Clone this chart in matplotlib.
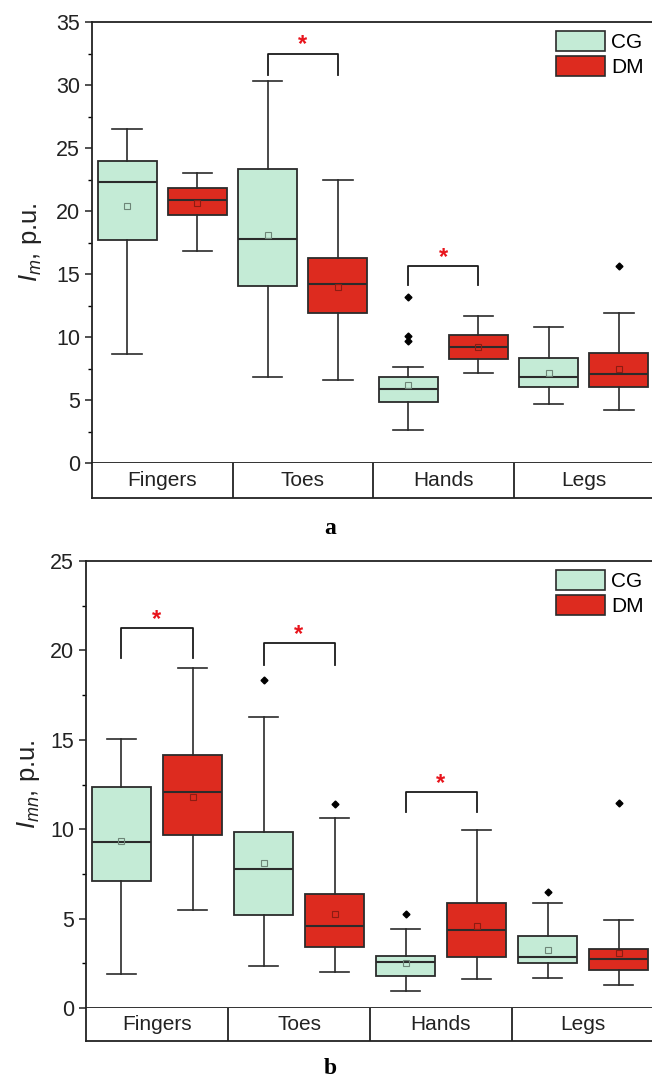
import matplotlib
matplotlib.use('Agg')
import matplotlib.pyplot as plt
from matplotlib.patches import Patch

plt.rcParams['font.family'] = ['Liberation Sans', 'DejaVu Sans']
plt.rcParams['mathtext.fontset'] = 'custom'
plt.rcParams['mathtext.rm'] = 'Liberation Sans'
plt.rcParams['mathtext.it'] = 'Liberation Sans:italic'

# Data
categories = ['Fingers', 'Toes', 'Hands', 'Legs']
groups = ['CG', 'DM']

# panel a : I_m
a_cg_low = [8.65, 6.8, 2.6, 4.7]
a_cg_q1 = [17.7, 14.05, 4.85, 6.05]
a_cg_med = [22.3, 17.8, 5.9, 6.8]
a_cg_q3 = [24.0, 23.3, 6.8, 8.3]
a_cg_high = [26.5, 30.3, 7.6, 10.8]
a_cg_mean = [20.4, 18.1, 6.2, 7.15]
a_cg_out = [[], [], [13.2, 10.1, 9.7], []]

a_dm_low = [16.8, 6.6, 7.15, 4.2]
a_dm_q1 = [19.7, 11.9, 8.25, 6.05]
a_dm_med = [20.9, 14.2, 9.2, 7.05]
a_dm_q3 = [21.8, 16.3, 10.15, 8.7]
a_dm_high = [23.0, 22.5, 11.7, 11.9]
a_dm_mean = [20.6, 14.0, 9.2, 7.5]
a_dm_out = [[], [], [], [15.6]]

# significance brackets: category index, bracket top, end y
a_sig_cat = [1, 2]
a_sig_top = [32.5, 15.6]
a_sig_end = [30.8, 14.1]

# panel b : I_mn
b_cg_low = [1.9, 2.35, 0.95, 1.65]
b_cg_q1 = [7.1, 5.2, 1.8, 2.5]
b_cg_med = [9.3, 7.75, 2.55, 2.85]
b_cg_q3 = [12.35, 9.85, 2.9, 4.0]
b_cg_high = [15.05, 16.3, 4.4, 5.85]
b_cg_mean = [9.35, 8.1, 2.5, 3.25]
b_cg_out = [[], [18.35], [5.25], [6.5]]

b_dm_low = [5.5, 2.0, 1.6, 1.3]
b_dm_q1 = [9.7, 3.4, 2.85, 2.1]
b_dm_med = [12.1, 4.6, 4.35, 2.75]
b_dm_q3 = [14.15, 6.4, 5.9, 3.3]
b_dm_high = [19.0, 10.6, 9.95, 4.9]
b_dm_mean = [11.8, 5.25, 4.6, 3.05]
b_dm_out = [[], [11.4], [], [11.45]]

b_sig_cat = [0, 1, 2]
b_sig_top = [21.25, 20.4, 12.1]
b_sig_end = [19.6, 19.2, 10.95]

CG_COLOR = '#c4ebd6'
DM_COLOR = '#dd2b1f'
EDGE = '#2b2b2b'
W, H = 652, 1082


def make_stats(low, q1, med, q3, high, mean, out):
    return [dict(whislo=low[i], q1=q1[i], med=med[i], q3=q3[i], whishi=high[i],
                 mean=mean[i], fliers=out[i]) for i in range(len(low))]


def panel(fig, left, top, bottom, band_bottom, ymax, cg, dm, sig, ylabel, ylabel_x, letter, letter_y):
    ax = fig.add_axes([left / W, 1 - bottom / H, (654 - left) / W, (bottom - top) / H])
    band = fig.add_axes([left / W, 1 - band_bottom / H, (654 - left) / W, (band_bottom - bottom) / H])

    kw = dict(widths=0.42, patch_artist=True, showmeans=True, capwidths=0.21,
              boxprops=dict(edgecolor=EDGE, linewidth=1.3),
              medianprops=dict(color=EDGE, linewidth=1.5),
              whiskerprops=dict(color=EDGE, linewidth=1.2),
              capprops=dict(color=EDGE, linewidth=1.2),
              flierprops=dict(marker='D', markerfacecolor='k', markeredgecolor='k', markersize=3.5))
    for stats, off, color, mcol in [(cg, 0.25, CG_COLOR, '#6d8577'), (dm, 0.75, DM_COLOR, '#8c1c12')]:
        pos = [i + off for i in range(len(categories))]
        res = ax.bxp(stats, positions=pos,
                     meanprops=dict(marker='s', markerfacecolor='none', markeredgecolor=mcol,
                                    markersize=4.5, markeredgewidth=0.8),
                     **kw)
        for b in res['boxes']:
            b.set_facecolor(color)

    cats, tops, ends = sig
    for c, t, e in zip(cats, tops, ends):
        x0, x1 = c + 0.25, c + 0.75
        ax.plot([x0, x0, x1, x1], [e, t, t, e], color='#1a1a1a', linewidth=1.3)
        ax.annotate('*', xy=((x0 + x1) / 2, t), xytext=(0, 1.5), textcoords='offset points',
                    color='#e8141c', ha='center', va='baseline', fontsize=17, fontweight='bold')

    ax.set_xlim(0, 4)
    ax.set_ylim(0, ymax)
    ax.set_yticks(range(0, ymax + 1, 5))
    ax.set_yticks([v + 2.5 for v in range(0, ymax, 5)], minor=True)
    ax.set_xticks([])
    ax.tick_params(axis='y', which='major', direction='out', length=5, width=1.1, labelsize=15.5, colors='#222222')
    ax.tick_params(axis='y', which='minor', direction='out', length=3, width=1.0)
    ax.spines['right'].set_visible(False)
    for s in ['left', 'top', 'bottom']:
        ax.spines[s].set_linewidth(1.3)
        ax.spines[s].set_color('#222222')

    band.set_xlim(0, 4)
    band.set_ylim(0, 1)
    band.set_xticks([])
    band.set_yticks([])
    band.spines['right'].set_visible(False)
    band.spines['top'].set_visible(False)
    for s in ['left', 'bottom']:
        band.spines[s].set_linewidth(1.3)
        band.spines[s].set_color('#222222')
    for i, name in enumerate(categories):
        if i > 0:
            band.axvline(i, color='#222222', linewidth=1.3)
        band.text(i + 0.5, 0.5, name, ha='center', va='center', fontsize=15, color='#222222')

    handles = [Patch(facecolor=CG_COLOR, edgecolor=EDGE, linewidth=1.2),
               Patch(facecolor=DM_COLOR, edgecolor=EDGE, linewidth=1.2)]
    fig.legend(handles, groups, loc='upper left',
               bbox_to_anchor=(556 / W, 1 - (top + 9) / H), frameon=False, fontsize=15,
               handlelength=2.35, handleheight=1.1, handletextpad=0.3, labelspacing=0.2,
               borderpad=0, borderaxespad=0)

    fig.text(ylabel_x / W, 1 - (top + bottom) / 2 / H, ylabel, rotation=90, ha='center', va='center',
             fontsize=18.5, color='#222222')
    fig.text(330 / W, 1 - letter_y / H, letter, ha='center', va='center', fontsize=17,
             fontweight='bold', family='Liberation Serif')
    return ax


fig = plt.figure(figsize=(6.52, 10.82), dpi=100, facecolor='white')

panel(fig, 92, 22, 463, 498, 35,
      make_stats(a_cg_low, a_cg_q1, a_cg_med, a_cg_q3, a_cg_high, a_cg_mean, a_cg_out),
      make_stats(a_dm_low, a_dm_q1, a_dm_med, a_dm_q3, a_dm_high, a_dm_mean, a_dm_out),
      (a_sig_cat, a_sig_top, a_sig_end), '$I_m$, p.u.', 30, 'a', 528)

panel(fig, 86, 561, 1008, 1041, 25,
      make_stats(b_cg_low, b_cg_q1, b_cg_med, b_cg_q3, b_cg_high, b_cg_mean, b_cg_out),
      make_stats(b_dm_low, b_dm_q1, b_dm_med, b_dm_q3, b_dm_high, b_dm_mean, b_dm_out),
      (b_sig_cat, b_sig_top, b_sig_end), '$I_{mn}$, p.u.', 28, 'b', 1068)

fig.savefig('out.png', dpi=100)
